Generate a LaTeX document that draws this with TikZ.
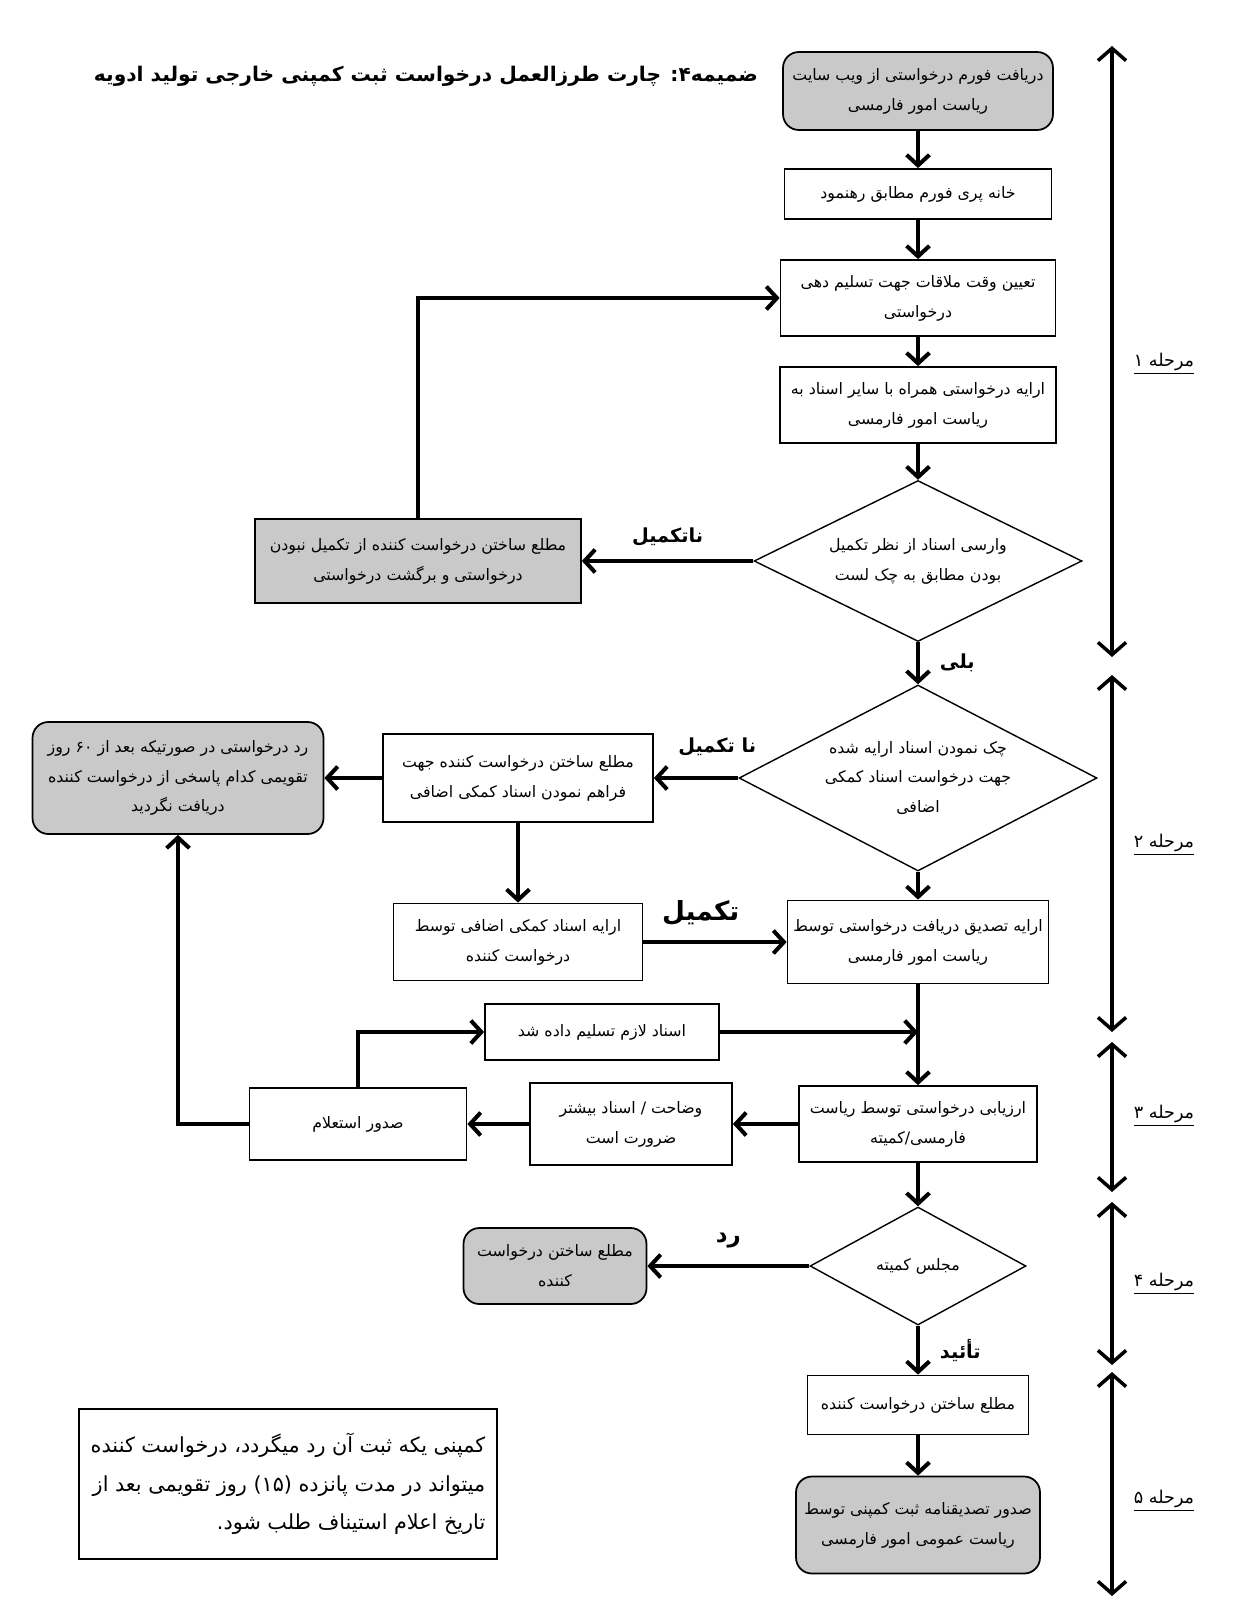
\documentclass[tikz,border=0pt]{standalone}
\usepackage{fontspec}
\usetikzlibrary{arrows.meta, shapes.geometric}
\newfontfamily\farsi[Script=Arabic]{DejaVu Sans}
\TeXXeTstate=1
\newcommand{\fa}[1]{\beginR #1\endR}
\definecolor{ftgray}{HTML}{C9C9C9}

\begin{document}
\begin{tikzpicture}[x=0.02cm, y=-0.02cm,
          every node/.style={font=\farsi\fontsize{9}{17}\selectfont},
          stepbox/.style={draw, line width=1pt, fill=white, align=center, inner sep=2pt},
          shadebox/.style={stepbox, fill=ftgray},
          roundbox/.style={shadebox, rounded corners=9pt},
          checkbox/.style={diamond, aspect=2, draw, line width=.8pt, align=center, inner sep=0pt},
          flow/.style={line width=2.3pt, -{Straight Barb[length=6pt, width=13pt]}},
          stage/.style={line width=2pt, {Straight Barb[length=7pt, width=16pt]}-{Straight Barb[length=7pt, width=16pt]}},
          answer/.style={font=\farsi\bfseries\fontsize{11}{13}\selectfont}]
  \useasboundingbox (0,0) rectangle (1243,1598);
  \node[font=\farsi\bfseries\fontsize{11.5}{14}\selectfont] (title) at (426,76) {\fa{ضمیمه۴: چارت طرزالعمل درخواست ثبت کمپنی خارجی تولید ادویه}};
  % main column
  \node[roundbox, minimum width=5.4cm, minimum height=1.56cm] (form) at (918,91) {\fa{دریافت فورم درخواستی از ویب سایت}\\\fa{ریاست امور فارمسی}};
  \node[stepbox, minimum width=5.34cm, minimum height=1cm] (fillin) at (918,194) {\fa{خانه پری فورم مطابق رهنمود}};
  \node[stepbox, minimum width=5.5cm, minimum height=1.52cm] (meeting) at (918,298) {\fa{تعیین وقت ملاقات جهت تسلیم دهی}\\\fa{درخواستی}};
  \node[stepbox, minimum width=5.52cm, minimum height=1.52cm] (submit) at (918,405) {\fa{ارایه درخواستی همراه با سایر اسناد به}\\\fa{ریاست امور فارمسی}};
  \node[checkbox, minimum width=6.56cm, minimum height=3.22cm] (verify) at (918,561) {\fa{وارسی اسناد از نظر تکمیل}\\\fa{بودن مطابق به چک لست}};
  \node[shadebox, minimum width=6.52cm, minimum height=1.68cm] (incomplete) at (418,561) {\fa{مطلع ساختن درخواست کننده از تکمیل نبودن}\\\fa{درخواستی و برگشت درخواستی}};
  \node[checkbox, minimum width=7.16cm, minimum height=3.72cm] (recheck) at (918,778) {\fa{چک نمودن اسناد ارایه شده}\\\fa{جهت درخواست اسناد کمکی}\\\fa{اضافی}};
  \node[stepbox, minimum width=5.4cm, minimum height=1.76cm] (notify) at (518,778) {\fa{مطلع ساختن درخواست کننده جهت}\\\fa{فراهم نمودن اسناد کمکی اضافی}};
  \node[roundbox, minimum width=5.82cm, minimum height=2.24cm] (reject) at (178,778) {\fa{رد درخواستی در صورتیکه بعد از ۶۰ روز}\\\fa{تقویمی کدام پاسخی از درخواست کننده}\\\fa{دریافت نگردید}};
  \node[stepbox, minimum width=4.98cm, minimum height=1.54cm] (extra) at (518,942) {\fa{ارایه اسناد کمکی اضافی توسط}\\\fa{درخواست کننده}};
  \node[stepbox, minimum width=5.22cm, minimum height=1.66cm] (receipt) at (918,942) {\fa{ارایه تصدیق دریافت درخواستی توسط}\\\fa{ریاست امور فارمسی}};
  \node[stepbox, minimum width=4.68cm, minimum height=1.12cm] (handed) at (602,1032) {\fa{اسناد لازم تسلیم داده شد}};
  \node[stepbox, minimum width=4.76cm, minimum height=1.52cm] (assess) at (918,1124) {\fa{ارزیابی درخواستی توسط ریاست}\\\fa{فارمسی/کمیته}};
  \node[stepbox, minimum width=4.04cm, minimum height=1.64cm] (clarify) at (631,1124) {\fa{وضاحت / اسناد بیشتر}\\\fa{ضرورت است}};
  \node[stepbox, minimum width=4.34cm, minimum height=1.44cm] (inquiry) at (358,1124) {\fa{صدور استعلام}};
  \node[checkbox, minimum width=4.32cm, minimum height=2.36cm] (committee) at (918,1266) {\fa{مجلس کمیته}};
  \node[roundbox, minimum width=3.66cm, minimum height=1.52cm] (refuse) at (555,1266) {\fa{مطلع ساختن درخواست}\\\fa{کننده}};
  \node[stepbox, minimum width=4.42cm, minimum height=1.18cm] (inform) at (918,1405) {\fa{مطلع ساختن درخواست کننده}};
  \node[roundbox, minimum width=4.88cm, minimum height=1.94cm] (certify) at (918,1525) {\fa{صدور تصدیقنامه ثبت کمپنی توسط}\\\fa{ریاست عمومی امور فارمسی}};
  \node[stepbox, line width=.8pt, minimum width=8.36cm, minimum height=3cm, align=right, font=\farsi\fontsize{11.8}{22}\selectfont] (note) at (288,1484) {\fa{کمپنی یکه ثبت آن رد میگردد، درخواست کننده}\\\fa{میتواند در مدت پانزده (۱۵) روز تقویمی بعد از}\\\fa{تاریخ اعلام استیناف طلب شود.}};
  % connectors
  \draw[flow] (form.south) -- (fillin.north);
  \draw[flow] (fillin.south) -- (meeting.north);
  \draw[flow] (meeting.south) -- (submit.north);
  \draw[flow] (submit.south) -- (verify.north);
  \draw[flow] (verify.west) -- node[answer, above=4pt] {\fa{ناتکمیل}} (incomplete.east);
  \draw[flow] (incomplete.north) |- (meeting.west);
  \draw[flow] (verify.south) -- node[answer, right=8pt] {\fa{بلی}} (recheck.north);
  \draw[flow] (recheck.west) -- node[answer, above=8pt, pos=.25] {\fa{نا تکمیل}} (notify.east);
  \draw[flow] (notify.west) -- (reject.east);
  \draw[flow] (notify.south) -- (extra.north);
  \draw[flow] (recheck.south) -- (receipt.north);
  \draw[flow] (extra.east) -- node[answer, font=\farsi\bfseries\fontsize{15}{17}\selectfont, above=5pt, pos=.4] {\fa{تکمیل}} (receipt.west);
  \draw[flow] (receipt.south) -- (assess.north);
  \coordinate (join) at (receipt.south |- handed.east);
  \draw[flow] (handed.east) -- (join);
  \draw[flow] (assess.west) -- (clarify.east);
  \draw[flow] (clarify.west) -- (inquiry.east);
  \draw[flow] (inquiry.north) |- (handed.west);
  \draw[flow] (inquiry.west) -| (reject.south);
  \draw[flow] (assess.south) -- (committee.north);
  \draw[flow] (committee.west) -- node[answer, font=\farsi\bfseries\fontsize{13}{15}\selectfont, above=6pt] {\fa{رد}} (refuse.east);
  \draw[flow] (committee.south) -- node[answer, right=8pt] {\fa{تأئید}} (inform.north);
  \draw[flow] (inform.south) -- (certify.north);
  % stages
  \coordinate (s1top) at (1112,46);   \coordinate (s1bot) at (1112,657);
  \coordinate (s2top) at (1112,675);  \coordinate (s2bot) at (1112,1032);
  \coordinate (s3top) at (1112,1042); \coordinate (s3bot) at (1112,1192);
  \coordinate (s4top) at (1112,1202); \coordinate (s4bot) at (1112,1365);
  \coordinate (s5top) at (1112,1372); \coordinate (s5bot) at (1112,1596);
  \draw[stage] (s1top) -- (s1bot);
  \draw[stage] (s2top) -- (s2bot);
  \draw[stage] (s3top) -- (s3bot);
  \draw[stage] (s4top) -- (s4bot);
  \draw[stage] (s5top) -- (s5bot);
  \node[font=\farsi\fontsize{10}{12}\selectfont] (stage1) at (1164,364) {\underline{\fa{مرحله ۱}}};
  \node[font=\farsi\fontsize{10}{12}\selectfont] (stage2) at (1164,845) {\underline{\fa{مرحله ۲}}};
  \node[font=\farsi\fontsize{10}{12}\selectfont] (stage3) at (1164,1116) {\underline{\fa{مرحله ۳}}};
  \node[font=\farsi\fontsize{10}{12}\selectfont] (stage4) at (1164,1284) {\underline{\fa{مرحله ۴}}};
  \node[font=\farsi\fontsize{10}{12}\selectfont] (stage5) at (1164,1501) {\underline{\fa{مرحله ۵}}};
\end{tikzpicture}
\end{document}
